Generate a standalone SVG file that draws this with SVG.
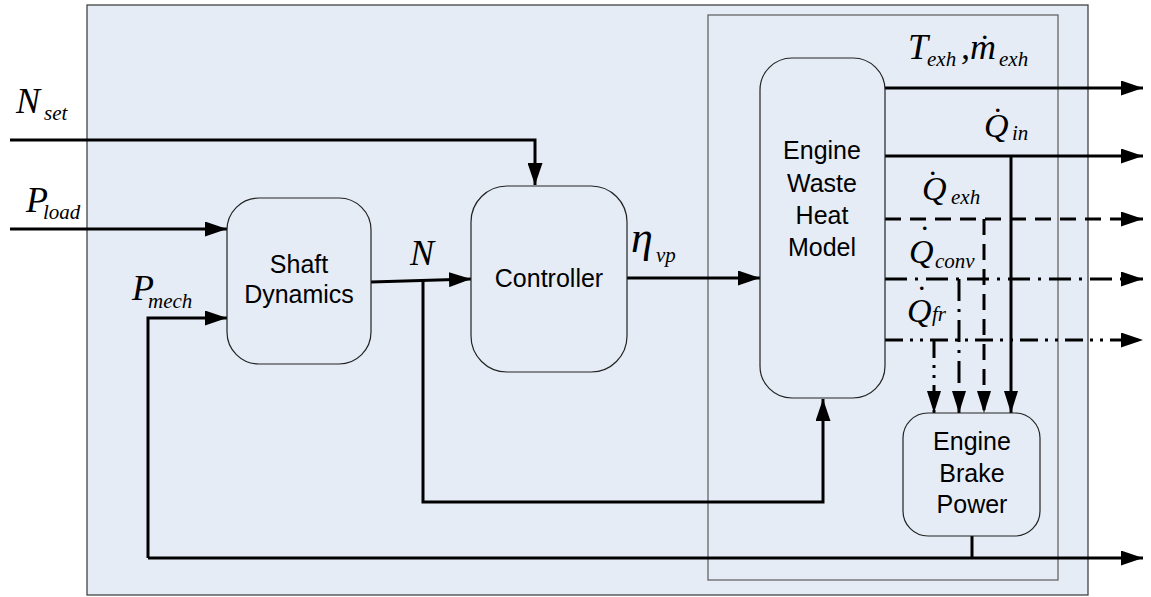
<svg xmlns="http://www.w3.org/2000/svg" width="1151" height="597" viewBox="0 0 1151 597">
  <defs>
    <marker id="arrow" markerUnits="userSpaceOnUse" markerWidth="23" markerHeight="15" refX="22" refY="7.5" orient="auto" viewBox="0 0 23 15">
      <path d="M0,0 L22,7.5 L0,15 z" fill="#000"/>
    </marker>
    <marker id="arrowS" markerUnits="userSpaceOnUse" markerWidth="23" markerHeight="14" refX="22" refY="7" orient="auto" viewBox="0 0 23 14">
      <path d="M0,0 L22,7 L0,14 z" fill="#000"/>
    </marker>
  </defs>
  <style>
    .frame { fill: #e6ecf6; stroke: #444; stroke-width: 1.3; }
    .sub { fill: none; stroke: #666; stroke-width: 1.3; }
    .block { fill: #e6ecf6; stroke: #222; stroke-width: 1.2; }
    .lbl { font-family: "Liberation Sans", Arial, sans-serif; font-size: 25px; fill: #000; text-anchor: middle; }
    .m { font-family: "Liberation Serif", "Times New Roman", serif; font-style: italic; fill: #000; }
    .big { font-size: 36px; }
    .q { font-size: 34px; }
    .s { font-size: 21px; }
    .dot { font-family: "Liberation Serif", serif; font-size: 30px; fill: #000; }
    .w { fill: none; stroke: #000; stroke-width: 3; }
    .dash { stroke-dasharray: 16 9; }
    .dd { stroke-dasharray: 22 8 3 8; }
    .ddd { stroke-dasharray: 18 7 3 7 3 7; }
  </style>

  <!-- system boundary -->
  <rect class="frame" x="87" y="5" width="1001" height="590"/>
  <!-- engine sub-system boundary -->
  <rect class="sub" x="708" y="15" width="350" height="565"/>

  <!-- connectors -->
  <g id="connectors">
    <path class="w" d="M10,140 H535 V185" marker-end="url(#arrow)"/>
    <path class="w" d="M10,229 H227" marker-end="url(#arrow)"/>
    <path class="w" d="M371,282 L471,279" marker-end="url(#arrow)"/>
    <path class="w" d="M423,281 V502 H823 V399" marker-end="url(#arrow)"/>
    <path class="w" d="M627,278 H760" marker-end="url(#arrow)"/>
    <path class="w" d="M885,88 H1143" marker-end="url(#arrow)"/>
    <path class="w" d="M885,156 H1143" marker-end="url(#arrow)"/>
    <path class="w" d="M1011,156 V413" marker-end="url(#arrowS)"/>
    <path class="w dash" d="M885,219 H1143" marker-end="url(#arrow)"/>
    <path class="w dash" d="M984,219 V413" marker-end="url(#arrowS)"/>
    <path class="w dd" d="M885,279 H1143" marker-end="url(#arrow)"/>
    <path class="w dd" d="M959,279 V413" marker-end="url(#arrowS)"/>
    <path class="w ddd" d="M885,340 H1143" marker-end="url(#arrow)"/>
    <path class="w ddd" d="M934,340 V413" marker-end="url(#arrowS)"/>
    <path class="w" d="M972,536 V558"/>
    <path class="w" d="M148,558 H1143" marker-end="url(#arrow)"/>
    <path class="w" d="M148,558 V318 H227" marker-end="url(#arrow)"/>
  </g>

  <!-- blocks -->
  <g id="shaft-dynamics">
    <rect class="block" x="227" y="198" width="144" height="166" rx="32" ry="32"/>
    <text class="lbl" x="299" y="273">Shaft</text>
    <text class="lbl" x="299" y="303">Dynamics</text>
  </g>
  <g id="controller">
    <rect class="block" x="471" y="186" width="156" height="186" rx="36" ry="36"/>
    <text class="lbl" x="549" y="287">Controller</text>
  </g>
  <g id="engine-waste-heat-model">
    <rect class="block" x="760" y="58" width="125" height="340" rx="32" ry="32"/>
    <text class="lbl" x="822" y="159">Engine</text>
    <text class="lbl" x="822" y="192">Waste</text>
    <text class="lbl" x="822" y="224">Heat</text>
    <text class="lbl" x="822" y="256">Model</text>
  </g>
  <g id="engine-brake-power">
    <rect class="block" x="903" y="413" width="137" height="123" rx="25" ry="25"/>
    <text class="lbl" x="972" y="450">Engine</text>
    <text class="lbl" x="972" y="482">Brake</text>
    <text class="lbl" x="972" y="513">Power</text>
  </g>

  <!-- signal labels -->
  <g id="labels">
    <text class="m big" x="16" y="113">N</text>
    <text class="m s" x="44" y="120">set</text>

    <text class="m big" x="26" y="212">P</text>
    <text class="m s" x="43" y="219">load</text>

    <text class="m big" x="132" y="300">P</text>
    <text class="m s" x="148" y="308">mech</text>

    <text class="m big" x="410" y="265">N</text>

    <text class="m" font-size="44" x="631" y="252">η</text>
    <text class="m s" x="656" y="262">vp</text>

    <text class="m big" x="908" y="59">T</text>
    <text class="m s" x="927" y="66">exh</text>
    <text class="m big" x="961" y="59">,</text>
    <text class="m big" x="970" y="59">m</text>
    <text class="dot" x="981" y="39">.</text>
    <text class="m s" x="999" y="66">exh</text>

    <text class="m q" x="984" y="137">Q</text>
    <text class="dot" x="994" y="112">.</text>
    <text class="m s" x="1012" y="140">in</text>

    <text class="m q" x="922" y="200">Q</text>
    <text class="dot" x="929" y="175">.</text>
    <text class="m s" x="951" y="204">exh</text>

    <text class="m q" x="909" y="263">Q</text>
    <text class="dot" x="921" y="230">.</text>
    <text class="m s" x="935" y="268">conv</text>

    <text class="m q" x="907" y="322">Q</text>
    <text class="dot" x="918" y="290">.</text>
    <text class="m s" x="932" y="321">fr</text>
  </g>
</svg>
